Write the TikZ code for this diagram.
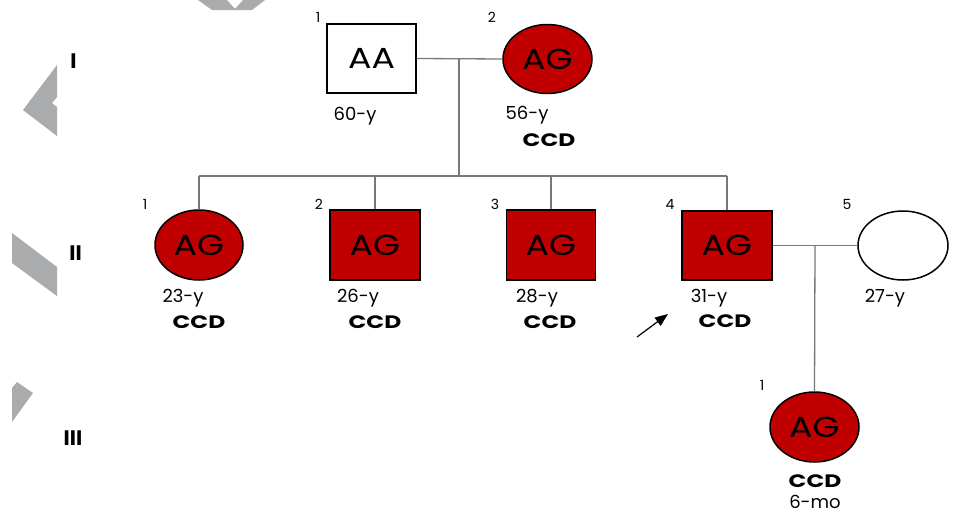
\documentclass[tikz,border=0pt]{standalone}
\usepackage{fontspec}
\setmainfont{Poppins}
\newfontfamily\widefont[FakeStretch=1.2]{Poppins}
\newfontfamily\ccdfont[FakeStretch=1.3]{Poppins}
\usetikzlibrary{shapes.geometric,arrows.meta}
\definecolor{affred}{RGB}{192,0,0}
\definecolor{wmgray}{RGB}{170,171,173}
\definecolor{conngray}{RGB}{120,120,120}
\tikzset{
  person/.style={draw=black, line width=1.5pt, inner sep=0pt, font=\widefont\fontsize{29}{31}\selectfont},
  male/.style={person, rectangle, minimum width=89pt, minimum height=69pt},
  female/.style={person, ellipse, minimum width=89pt, minimum height=69pt},
  aff/.style={fill=affred},
  conn/.style={draw=conngray, line width=1.3pt},
  idnum/.style={inner sep=0pt, font=\fontsize{14}{16}\selectfont},
  age/.style={inner sep=0pt, anchor=base, font=\fontsize{18}{20}\selectfont},
  dx/.style={inner sep=0pt, anchor=base, font=\ccdfont\bfseries\fontsize{18}{20}\selectfont},
  gen/.style={inner sep=0pt, anchor=base, font=\bfseries\fontsize{21}{23}\selectfont},
  wm/.style={fill=wmgray, draw=none}
}
\begin{document}
\begin{tikzpicture}[x=1pt,y=-1pt]
\useasboundingbox (0,0) rectangle (955,514);
% watermark shapes
\fill[wm] (198,0) -- (227,0) -- (236,10) -- (212,10) -- cycle;
\fill[wm] (243,0) -- (265,0) -- (252,10) -- (234,10) -- cycle;
\fill[wm] (57,65) -- (23,110) -- (57,136) -- (57,107) -- (52,103) -- (57,97) -- cycle;
\fill[wm] (12,233) -- (57,267) -- (57,296) -- (12,263) -- cycle;
\fill[wm] (12,388) -- (17,382) -- (33,393) -- (12,422) -- cycle;
% generation labels
\node[gen] (gI) at (73.5,68) {I};
\node[gen] (gII) at (75.5,260) {II};
\node[gen] (gIII) at (73,445) {III};
% generation I
\node[male] (I1) at (371.5,58.5) {AA};
\node[female, aff] (I2) at (547.5,59) {AG};
\node[idnum] (nI1) at (318,17) {1};
\node[idnum] (nI2) at (492,17) {2};
\node[age] (aI1) at (355,120) {60-y};
\node[age] (aI2) at (527,119) {56-y};
\node[dx] (dI2) at (549,146) {CCD};
% generation II
\node[female, aff, minimum width=88pt, minimum height=70pt] (II1) at (199,245) {AG};
\node[male, aff, minimum width=90pt, minimum height=70pt] (II2) at (375,245) {AG};
\node[male, aff, minimum height=70pt] (II3) at (551,245) {AG};
\node[male, aff, minimum width=90pt] (II4) at (727,245.5) {AG};
\node[female, minimum width=90pt] (II5) at (903,245.5) {};
\node[idnum] (nII1) at (145,204) {1};
\node[idnum] (nII2) at (319,204) {2};
\node[idnum] (nII3) at (495,204) {3};
\node[idnum] (nII4) at (670,204) {4};
\node[idnum] (nII5) at (847,204) {5};
\node[age] (aII1) at (183,302) {23-y};
\node[age] (aII2) at (358,302) {26-y};
\node[age] (aII3) at (537,302) {28-y};
\node[age] (aII4) at (709,302) {31-y};
\node[age] (aII5) at (885,302) {27-y};
\node[dx] (dII1) at (199,328) {CCD};
\node[dx] (dII2) at (375,328) {CCD};
\node[dx] (dII3) at (550,328) {CCD};
\node[dx] (dII4) at (725,327) {CCD};
% generation III
\node[female, aff, minimum height=70pt] (III1) at (814.5,427) {AG};
\node[idnum] (nIII1) at (762,385) {1};
\node[dx] (dIII1) at (815,487) {CCD};
\node[age] (aIII1) at (815,508) {6-mo};
% connectors
\coordinate (m1) at (459,59);
\coordinate (s1) at (459,176);
\coordinate (sL) at (199,176);
\coordinate (sR) at (727,176);
\coordinate (m2) at (815,245.5);
\draw[conn] (I1.east) -- (I2.west);
\draw[conn] (m1) -- (s1);
\draw[conn] (sL) -- (sR);
\draw[conn] (sL) -- (II1.north);
\draw[conn] (II2.north |- sL) -- (II2.north);
\draw[conn] (II3.north |- sL) -- (II3.north);
\draw[conn] (sR) -- (II4.north);
\draw[conn] (II4.east) -- (II5.west);
\draw[conn] (m2) -- (III1.north);
% proband arrow
\coordinate (pA) at (637,337);
\coordinate (pB) at (668,314);
\draw[line width=1.2pt, -{Triangle[length=13pt,width=10pt]}] (pA) -- (pB);
\end{tikzpicture}
\end{document}
